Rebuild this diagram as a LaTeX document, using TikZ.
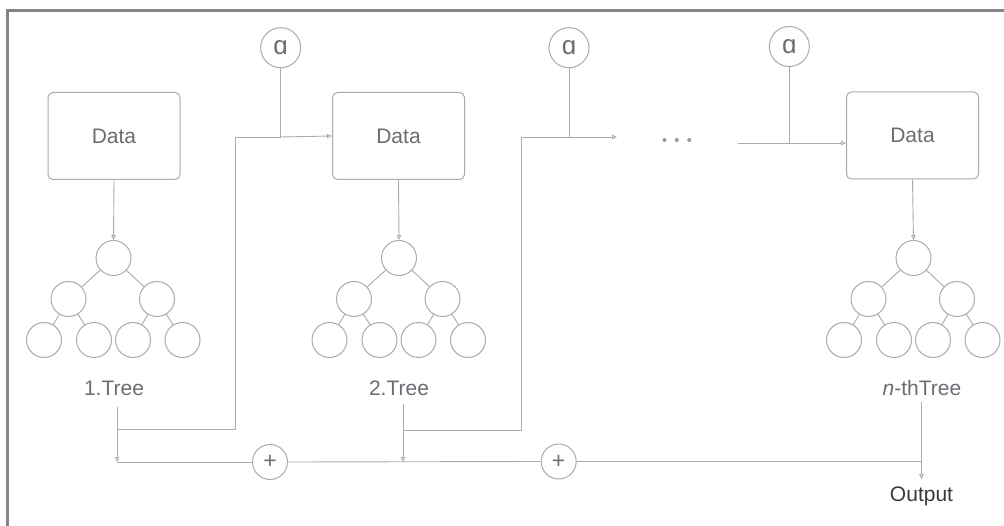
\documentclass[tikz,border=0pt]{standalone}
\usepackage{fontspec}
\setmainfont{Liberation Sans}
\usetikzlibrary{arrows.meta}
\definecolor{ln}{HTML}{ABABAB}
\definecolor{tx}{HTML}{6A6D72}
\definecolor{bd}{HTML}{858585}
\definecolor{outc}{HTML}{3A3A3A}
\definecolor{dotc}{HTML}{999999}
\newcommand{\mytree}[2]{%
  \node[tn] (#1r) at (#2,258) {};
  \node[tn] (#1a) at ({#2-45},299) {};
  \node[tn] (#1b) at ({#2+43.5},299) {};
  \node[tn] (#1c) at ({#2-69.5},340) {};
  \node[tn] (#1d) at ({#2-19.5},340) {};
  \node[tn] (#1e) at ({#2+19.5},340) {};
  \node[tn] (#1f) at ({#2+69},340) {};
  \draw[line] (#1r) -- (#1a);
  \draw[line] (#1r) -- (#1b);
  \draw[line] (#1a) -- (#1c);
  \draw[line] (#1a) -- (#1d);
  \draw[line] (#1b) -- (#1e);
  \draw[line] (#1b) -- (#1f);
}
\begin{document}
\begin{tikzpicture}[x=1pt,y=-1pt,
  line/.style={draw=ln, line width=0.9pt},
  arr/.style={line, -{Triangle[open,length=5pt,width=4.5pt]}},
  databox/.style={draw=ln, line width=1pt, rounded corners=5pt, minimum width=132pt, minimum height=87pt, font=\fontsize{21}{25}\selectfont, text=tx, inner sep=0pt},
  tn/.style={draw=ln, line width=1pt, circle, minimum size=35pt, inner sep=0pt},
  opcirc/.style={draw=ln, line width=1pt, circle, minimum size=#1, inner sep=0pt, text=tx},
  lab/.style={font=\fontsize{21}{25}\selectfont, text=tx, inner sep=0pt},
  dot/.style={circle, fill=dotc, minimum size=4pt, inner sep=0pt}
]
\useasboundingbox (0,0) rectangle (1004,526);
\fill[white] (0,0) rectangle (1004,526);
\draw[bd, line width=3pt] (7.5,526) -- (7.5,10.5) -- (1004,10.5);

% data boxes
\node[databox] (d1) at (114,136) {Data};
\node[databox] (d2) at (398.5,136) {Data};
\node[databox] (d3) at (912.5,135.5) {Data};

% trees
\mytree{ta}{113.5}
\mytree{tb}{399}
\mytree{tc}{913.5}

\draw[arr] (d1.south) -- (tar.north);
\draw[arr] (d2.south) -- (tbr.north);
\draw[arr] (d3.south) -- (tcr.north);

% tree labels
\node[lab] (l1) at (114,388) {1.Tree};
\node[lab] (l2) at (399,388) {2.Tree};
\node[lab] (l3) at (922,388) {\textit{n}-thTree};
\node[lab, text=outc] (out) at (921.5,496) {Output};

% alpha nodes
\node[opcirc=40pt, font=\fontsize{26}{30}\selectfont] (a1) at (280.7,47.7) {ɑ};
\node[opcirc=40pt, font=\fontsize{26}{30}\selectfont] (a2) at (569,47.7) {ɑ};
\node[opcirc=40pt, font=\fontsize{26}{30}\selectfont] (a3) at (789.3,46.5) {ɑ};

% plus nodes
\node[opcirc=35pt, font=\fontsize{23}{27}\selectfont] (p1) at (270,462) {+};
\node[opcirc=35pt, font=\fontsize{23}{27}\selectfont] (p2) at (558.7,461.5) {+};

% dots
\node[dot] (dt1) at (664.5,140) {};
\node[dot] (dt2) at (676.8,140) {};
\node[dot] (dt3) at (689.2,140) {};

% coordinates
\coordinate (s1t) at (117,407);
\coordinate (j1) at (117,429.5);
\coordinate (s1) at (117,462);
\coordinate (c1b) at (235,429.5);
\coordinate (c1t) at (235,137);
\coordinate (m1) at (280.7,137);

\coordinate (s2t) at (403,404);
\coordinate (j2) at (403,430);
\coordinate (s2) at (403,462);
\coordinate (c2b) at (521,430);
\coordinate (c2t) at (521,137);
\coordinate (m2) at (569,137);
\coordinate (e2) at (617,137);

\coordinate (c3) at (738,143);
\coordinate (m3) at (789.3,143);

\coordinate (s3t) at (921.5,402);
\coordinate (s3) at (921.5,461.5);
\coordinate (o3) at (921.5,479);

% feedback 1
\draw[line] (j1) -- (c1b) -- (c1t) -- (m1);
\draw[arr] (m1) -- (d2.west);
\draw[line] (a1.south) -- (m1);
\draw[arr] (s1t) -- (s1);
\draw[line] (s1) -- (p1.west);

% feedback 2
\draw[line] (j2) -- (c2b) -- (c2t) -- (m2);
\draw[arr] (m2) -- (e2);
\draw[line] (a2.south) -- (m2);
\draw[arr] (s2t) -- (s2);
\draw[line] (p1.east) -- (p2.west);

% third
\draw[line] (c3) -- (m3);
\draw[arr] (m3) -- (c3 -| d3.west);
\draw[line] (a3.south) -- (m3);

% output
\draw[line] (p2.east) -- (s3);
\draw[arr] (s3t) -- (o3);
\end{tikzpicture}
\end{document}
